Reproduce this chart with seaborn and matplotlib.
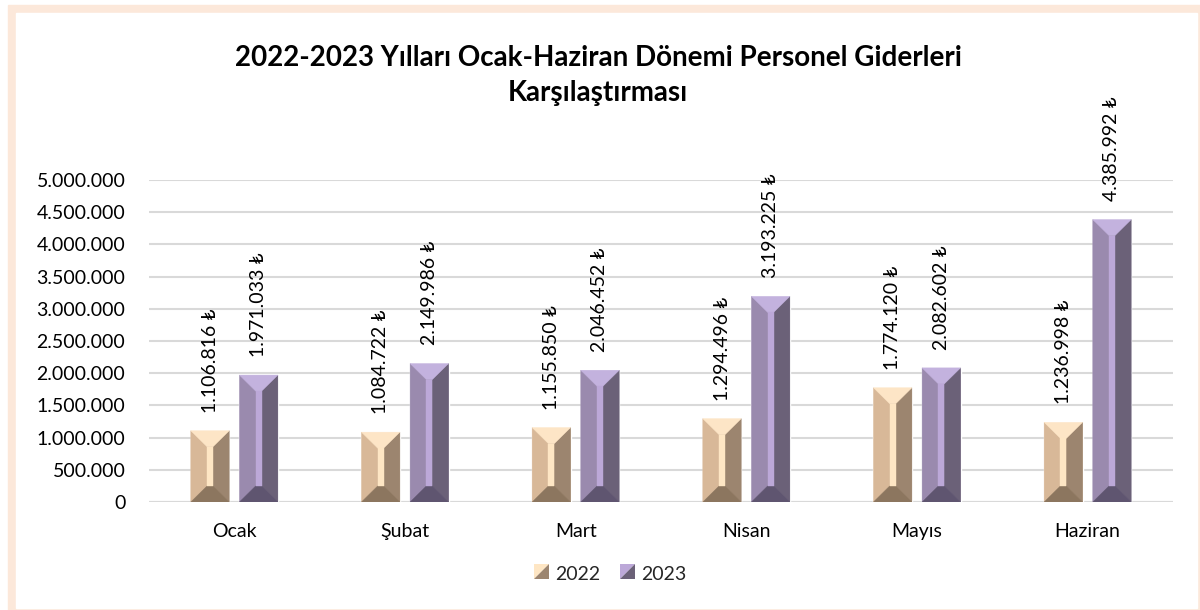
import numpy as np
import pandas as pd
import seaborn as sns
import matplotlib.pyplot as plt
from matplotlib.patches import Rectangle, Polygon
from matplotlib.legend_handler import HandlerBase
from matplotlib.ticker import FuncFormatter

months = ['Ocak', 'Şubat', 'Mart', 'Nisan', 'Mayıs', 'Haziran']
years = ['2022', '2023']
values_2022 = [1106816, 1084722, 1155850, 1294496, 1774120, 1236998]
values_2023 = [1971033, 2149986, 2046452, 3193225, 2082602, 4385992]

# face colours for the bevelled bars: left, right, top, bottom, centre strip
bevel = {
    '2022': ['#D8B898', '#9C856F', '#FDE5C6', '#8C765F', '#FEE6C4'],
    '2023': ['#9A8AAE', '#6B6178', '#C3B2DE', '#5F5570', '#BCA8D8'],
}


def thousands(v, pos=None):
    return f'{int(v):,}'.replace(',', '.')


def bevel_bar(ax, patch, cols, inset_px=16, strip_px=6):
    to_disp = ax.transData
    x0, y0 = to_disp.transform((patch.get_x(), 0))
    x1, y1 = to_disp.transform((patch.get_x() + patch.get_width(), patch.get_height()))
    xm = (x0 + x1) / 2
    xi0, xi1 = xm - strip_px / 2, xm + strip_px / 2
    d = min(inset_px, (y1 - y0) / 2)
    faces = [
        [(x0, y0), (x0, y1), (xi0, y1 - d), (xi0, y0 + d)],
        [(x1, y0), (x1, y1), (xi1, y1 - d), (xi1, y0 + d)],
        [(x0, y1), (x1, y1), (xi1, y1 - d), (xi0, y1 - d)],
        [(x0, y0), (x1, y0), (xi1, y0 + d), (xi0, y0 + d)],
        [(xi0, y0 + d), (xi1, y0 + d), (xi1, y1 - d), (xi0, y1 - d)],
    ]
    inv = to_disp.inverted()
    for pts, c in zip(faces, cols):
        ax.add_patch(Polygon(inv.transform(pts), closed=True, facecolor=c,
                             edgecolor=c, linewidth=0.3, zorder=3))


class BevelSquare(HandlerBase):
    # small square split on the diagonal, light upper-left / dark lower-right
    def create_artists(self, legend, orig_handle, xd, yd, w, h, fontsize, trans):
        light, dark = orig_handle
        s = min(w, h)
        x0, y0 = xd + (w - s) / 2, yd + (h - s) / 2
        a = Polygon([(x0, y0), (x0, y0 + s), (x0 + s, y0 + s)], closed=True,
                    facecolor=light, edgecolor='none', transform=trans)
        b = Polygon([(x0, y0), (x0 + s, y0), (x0 + s, y0 + s)], closed=True,
                    facecolor=dark, edgecolor='none', transform=trans)
        return [a, b]


df = pd.DataFrame({
    'Ay': months * 2,
    'Yıl': [years[0]] * 6 + [years[1]] * 6,
    'Tutar': values_2022 + values_2023,
})

sns.set_theme(style='white')
plt.rcParams['font.family'] = ['Lato', 'DejaVu Sans']

fig = plt.figure(figsize=(12, 6.1), dpi=100)
fig.patches.append(Rectangle((8 / 1200, 0), 1192 / 1200, 605 / 610,
                             transform=fig.transFigure, color='#FCE8DA', zorder=-2))
fig.patches.append(Rectangle((16 / 1200, 2 / 610), 1181 / 1200, 595 / 610,
                             transform=fig.transFigure, color='white', zorder=-1))
ax = fig.add_axes([149 / 1200, 108 / 610, 1024 / 1200, 322 / 610])
ax.patch.set_alpha(0)

sns.barplot(data=df, x='Ay', y='Tutar', hue='Yıl', width=0.57, gap=0.21,
            palette=[bevel['2022'][0], bevel['2023'][0]], ax=ax, legend=False,
            zorder=2)

ax.set_ylim(0, 5000000)
ax.set_xlim(-0.5, 5.5)
ax.set_yticks(np.arange(0, 5000001, 500000))
ax.yaxis.set_major_formatter(FuncFormatter(thousands))
ax.grid(axis='y', color='#D9D9D9', linewidth=1.5, zorder=0)
ax.set_axisbelow(True)
for s in ax.spines.values():
    s.set_visible(False)
ax.axhline(0, color='#D9D9D9', linewidth=1.5, zorder=1)
ax.tick_params(axis='y', length=0, pad=17, labelsize=14, labelcolor='black')
ax.tick_params(axis='x', length=0, pad=15, labelsize=14, labelcolor='black')
ax.set_xlabel('')
ax.set_ylabel('')

for year, container in zip(years, ax.containers):
    for bar in container:
        bevel_bar(ax, bar, bevel[year])
        h = bar.get_height()
        ax.annotate(thousands(h) + ' ₺', (bar.get_x() + bar.get_width() / 2, h),
                    xytext=(0, 13), textcoords='offset points', rotation=90,
                    ha='center', va='bottom', fontsize=14, color='black',
                    family=['Lato', 'DejaVu Sans'], zorder=5)

fig.text(598 / 1200, 1 - 58 / 610, '2022-2023 Yılları Ocak-Haziran Dönemi Personel Giderleri',
         ha='center', va='center', fontsize=20, fontweight='bold', color='black')
fig.text(598 / 1200, 1 - 93 / 610, 'Karşılaştırması',
         ha='center', va='center', fontsize=20, fontweight='bold', color='black')

handles = [(bevel[y][4], bevel[y][1]) for y in years]
fig.legend(handles, years, loc='center', bbox_to_anchor=(610 / 1200, 1 - 574 / 610),
           ncol=2, frameon=False, fontsize=14, handlelength=0.8, handleheight=0.8,
           handletextpad=0.3, columnspacing=1.0,
           handler_map={tuple: BevelSquare()})

fig.savefig('out.png', dpi=100)
